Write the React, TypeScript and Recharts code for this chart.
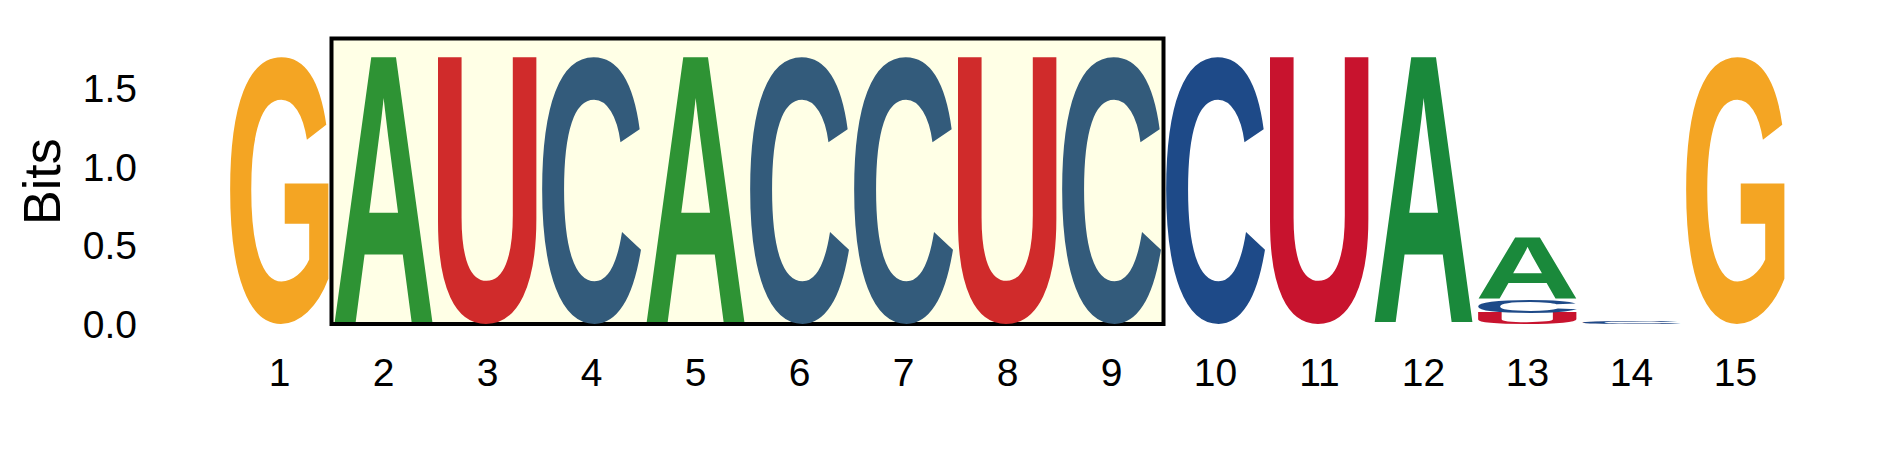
import React from 'react';
import { BarChart, Bar, XAxis, YAxis, ReferenceArea } from 'recharts';

document.body.style.margin = '0';

// sequence logo: information content (bits) per letter at each position
const POSITIONS = ['1', '2', '3', '4', '5', '6', '7', '8', '9', '10', '11', '12', '13', '14', '15'];
const BITS_U = [0, 0, 1.70, 0, 0, 0, 0, 1.70, 0, 0, 1.70, 0, 0.07, 0, 0];
const BITS_C = [0, 0, 0, 1.70, 0, 1.70, 1.70, 0, 1.70, 1.70, 0, 0, 0.085, 0.015, 0];
const BITS_A = [0, 1.70, 0, 0, 1.70, 0, 0, 0, 0, 0, 0, 1.70, 0.39, 0, 0];
const BITS_G = [1.70, 0, 0, 0, 0, 0, 0, 0, 0, 0, 0, 0, 0, 0, 1.70];
const Y_TICKS = [0, 0.5, 1, 1.5];

// highlighted motif
const MOTIF_START = '2';
const MOTIF_END = '9';
const MOTIF_TOP = 1.815;

const COLORS: Record<string, string> = { A: '#1A893B', C: '#1E4A88', G: '#F4A523', U: '#C8132E' };
const MOTIF_COLORS: Record<string, string> = { A: '#2E9334', C: '#335B7B', G: '#F4A523', U: '#D02B2B' };

const rows = POSITIONS.map((pos, i) => ({
  pos,
  U: BITS_U[i],
  C: BITS_C[i],
  A: BITS_A[i],
  G: BITS_G[i],
}));

const FONT = '"Liberation Sans", Arial, Helvetica, sans-serif';
const GLYPH_SIZE = 200;

// ink bounds of each glyph, so it can be stretched to fill its bar exactly
const FALLBACK: Record<string, number[]> = {
  A: [0, 144, 143.2, 0],
  C: [9, 134, 146, 2.4],
  G: [9, 143, 146, 2.4],
  U: [15, 129, 143.2, 2.4],
};
const glyphBox = (ch: string) => {
  try {
    const ctx = document.createElement('canvas').getContext('2d');
    if (ctx) {
      ctx.font = `bold ${GLYPH_SIZE}px ${FONT}`;
      const m = ctx.measureText(ch);
      if (m.actualBoundingBoxAscent > 0) {
        return [-m.actualBoundingBoxLeft, m.actualBoundingBoxRight, m.actualBoundingBoxAscent, m.actualBoundingBoxDescent];
      }
    }
  } catch (e) {}
  return FALLBACK[ch];
};
const BOXES: Record<string, number[]> = {};
['A', 'C', 'G', 'U'].forEach(ch => (BOXES[ch] = glyphBox(ch)));

const inMotif = (i: number) =>
  i >= POSITIONS.indexOf(MOTIF_START) && i <= POSITIONS.indexOf(MOTIF_END);

const letterShape = (ch: string) => (props: any) => {
  const { x, y, width, height, index } = props;
  if (!height || height <= 0) return <g />;
  const [x0, x1, asc, desc] = BOXES[ch];
  const sx = width / (x1 - x0);
  const sy = height / (asc + desc);
  return (
    <text
      x={0}
      y={0}
      fontFamily={FONT}
      fontWeight="bold"
      fontSize={GLYPH_SIZE}
      fill={inMotif(index) ? MOTIF_COLORS[ch] : COLORS[ch]}
      transform={`translate(${x},${y}) scale(${sx},${sy}) translate(${-x0},${asc})`}
    >
      {ch}
    </text>
  );
};

const BitsLabel = ({ viewBox }: any) => {
  const cx = viewBox.x + 42.5;
  const cy = viewBox.y + viewBox.height / 2 + 15;
  return (
    <text
      x={cx}
      y={cy}
      transform={`rotate(-90, ${cx}, ${cy})`}
      textAnchor="middle"
      dominantBaseline="central"
      fontFamily={FONT}
      fontSize={52}
      fill="#000"
    >
      Bits
    </text>
  );
};

export default function App() {
  return (
    <div style={{ width: 1889, height: 472, background: '#fff' }}>
      <BarChart
        width={1889}
        height={472}
        data={rows}
        margin={{ top: 9.33, right: 101.5, left: 0, bottom: 88 }}
        barCategoryGap={2.5}
      >
        <ReferenceArea
          x1={MOTIF_START}
          x2={MOTIF_END}
          y1={0}
          y2={MOTIF_TOP}
          fill="#FFFFE6"
          fillOpacity={1}
          stroke="#000"
          strokeWidth={4}
          ifOverflow="visible"
        />
        <XAxis
          dataKey="pos"
          interval={0}
          height={60}
          axisLine={false}
          tickLine={false}
          tickMargin={28}
          tick={{ fill: '#000', fontSize: 39, fontFamily: FONT }}
        />
        <YAxis
          type="number"
          domain={[0, 2]}
          ticks={Y_TICKS}
          width={227.5}
          axisLine={false}
          tickLine={false}
          tickMargin={84.5}
          tickFormatter={v => Number(v).toFixed(1)}
          tick={{ fill: '#000', fontSize: 39, fontFamily: FONT }}
          label={<BitsLabel />}
        />
        {['U', 'C', 'A', 'G'].map(ch => (
          <Bar
            key={ch}
            dataKey={ch}
            stackId="logo"
            fill={COLORS[ch]}
            shape={letterShape(ch)}
            isAnimationActive={false}
          />
        ))}
      </BarChart>
    </div>
  );
}
